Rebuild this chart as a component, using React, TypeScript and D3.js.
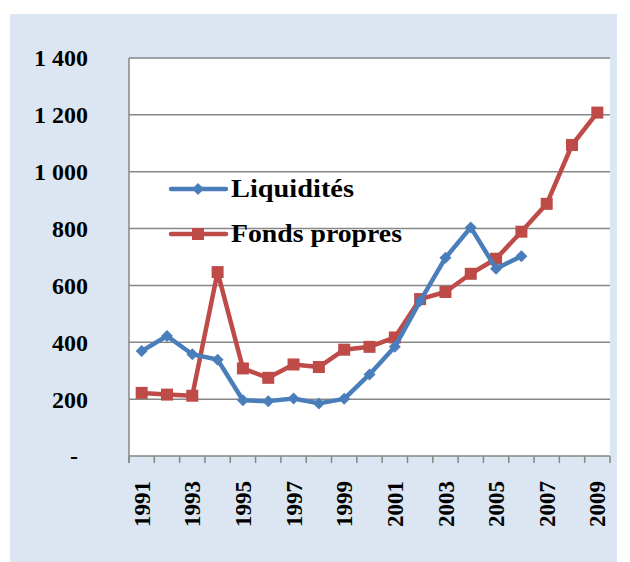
import React from "react";
import * as d3 from "d3";

const years = ["1991","1992","1993","1994","1995","1996","1997","1998","1999","2000","2001","2002","2003","2004","2005","2006","2007","2008","2009"];
const yearLabels = ["1991","1993","1995","1997","1999","2001","2003","2005","2007","2009"];
const liquidites: (number | null)[] = [369, 422, 358, 339, 196, 193, 202, 185, 201, 287, 384, 545, 697, 804, 659, 703, null, null, null];
const fondsPropres: (number | null)[] = [222, 216, 212, 647, 308, 275, 322, 313, 374, 384, 417, 552, 577, 641, 694, 789, 887, 1094, 1208];
const yTicks = [0, 200, 400, 600, 800, 1000, 1200, 1400];
const yTickLabels = ["-", "200", "400", "600", "800", "1 000", "1 200", "1 400"];
const seriesNames = ["Liquidités", "Fonds propres"];

const BLUE = "#4a7ebb";
const RED = "#be4b48";
const FONT = "Liberation Serif, serif";

export default function App() {
  const W = 630, H = 562;
  const left = 129, right = 610, top = 58, bottom = 456;
  const x = d3.scaleBand<string>().domain(years).range([left, right]);
  const y = d3.scaleLinear().domain([0, 1400]).range([bottom, top]);
  const cx = (yr: string) => (x(yr) as number) + x.bandwidth() / 2;

  const line = d3.line<number | null>()
    .defined((d) => d != null)
    .x((_, i) => cx(years[i]))
    .y((d) => y(d as number));

  const tickXs = years.map((yr) => x(yr) as number).concat([right]);
  const textStyle = { fontFamily: FONT, fontWeight: 700 } as React.CSSProperties;

  return (
    <svg width={W} height={H} style={{ position: "absolute", left: 0, top: 0 }}>
      <rect x={0} y={0} width={W} height={H} fill="#ffffff" />
      <rect x={10} y={14} width={607} height={H - 14} fill="#dce6f2" />
      <rect x={left} y={top} width={right - left} height={bottom - top} fill="#ffffff" />
      {yTicks.filter((t) => t > 0).map((t) => (
        <line key={t} x1={left} x2={right} y1={y(t)} y2={y(t)} stroke="#878787" strokeWidth={1.5} />
      ))}
      <line x1={left} x2={left} y1={top} y2={bottom + 7} stroke="#878787" strokeWidth={1.5} />
      <line x1={left} x2={right} y1={bottom} y2={bottom} stroke="#878787" strokeWidth={1.5} />
      {tickXs.map((tx, i) => (
        <line key={i} x1={tx} x2={tx} y1={bottom} y2={bottom + 7} stroke="#878787" strokeWidth={1.5} />
      ))}
      {yTicks.map((t, i) => (
        <text key={t} x={t === 0 ? 74 : 88} y={y(t)} dy="0.35em" textAnchor={t === 0 ? "middle" : "end"}
          style={textStyle} fontSize={24} fill="#000">{yTickLabels[i]}</text>
      ))}
      {yearLabels.map((yr) => (
        <text key={yr} transform={`translate(${cx(yr)},${481}) rotate(-90)`} textAnchor="end" dy="0.35em"
          style={textStyle} fontSize={23} fill="#000">{yr}</text>
      ))}
      <path d={line(fondsPropres) || ""} fill="none" stroke={RED} strokeWidth={4.5} strokeLinejoin="round" />
      {fondsPropres.map((v, i) => v == null ? null : (
        <rect key={i} x={cx(years[i]) - 6} y={y(v) - 6} width={12} height={12} fill={RED} />
      ))}
      <path d={line(liquidites) || ""} fill="none" stroke={BLUE} strokeWidth={4.5} strokeLinejoin="round" />
      {liquidites.map((v, i) => v == null ? null : (
        <path key={i} d={`M${cx(years[i])},${y(v) - 6}L${cx(years[i]) + 6},${y(v)}L${cx(years[i])},${y(v) + 6}L${cx(years[i]) - 6},${y(v)}Z`} fill={BLUE} />
      ))}
      {/* legend */}
      <line x1={171} x2={226} y1={189} y2={189} stroke={BLUE} strokeWidth={4.5} strokeLinecap="round" />
      <path d={`M198,183L204,189L198,195L192,189Z`} fill={BLUE} />
      <text x={231} y={197} style={textStyle} fontSize={26} fill="#000" textLength={123} lengthAdjust="spacingAndGlyphs">{seriesNames[0]}</text>
      <line x1={171} x2={226} y1={234} y2={234} stroke={RED} strokeWidth={4.5} strokeLinecap="round" />
      <rect x={192} y={228} width={12} height={12} fill={RED} />
      <text x={231} y={242} style={textStyle} fontSize={26} fill="#000" textLength={171} lengthAdjust="spacingAndGlyphs">{seriesNames[1]}</text>
    </svg>
  );
}
